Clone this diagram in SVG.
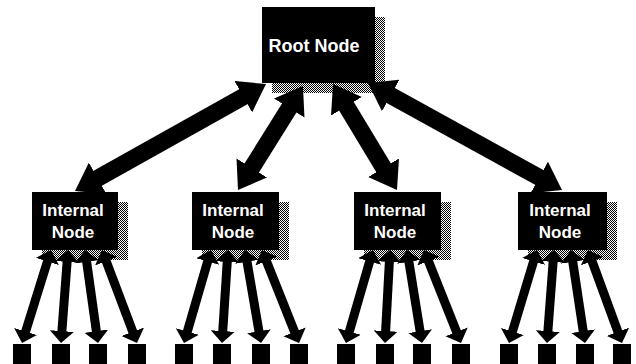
<svg xmlns="http://www.w3.org/2000/svg" width="636" height="364" viewBox="0 0 636 364">
<style>
.box{fill:#000}
.shadow{fill:url(#dither)}
.lbl{fill:#fff;font-family:"Liberation Sans",Arial,sans-serif;font-weight:bold;text-anchor:middle}
.big{stroke:#000;stroke-width:17;fill:none;marker-start:url(#hb);marker-end:url(#hb)}
.small{stroke:#000;stroke-width:9;fill:none;marker-start:url(#hs);marker-end:url(#hs)}
.leaf{fill:#000}
</style>
<defs>
<pattern id="dither" width="2" height="2" patternUnits="userSpaceOnUse">
<rect width="2" height="2" fill="#fff"/>
<rect width="1" height="1" fill="#000"/>
<rect x="1" y="1" width="1" height="1" fill="#000"/>
</pattern>
<marker id="hb" markerUnits="userSpaceOnUse" viewBox="0 -18 26 36" refX="1" refY="0" markerWidth="26" markerHeight="36" orient="auto-start-reverse">
<path d="M0,-18 L26,0 L0,18 z" fill="#000"/>
</marker>
<marker id="hs" markerUnits="userSpaceOnUse" viewBox="0 -12 12 24" refX="1" refY="0" markerWidth="12" markerHeight="24" orient="auto-start-reverse">
<path d="M0,-12 L12,0 L0,12 z" fill="#000"/>
</marker>
</defs>
<rect width="636" height="364" fill="#fff"/>

<g id="root">
<rect class="shadow" x="272" y="17" width="113" height="76"/>
<rect class="box" x="262" y="7" width="113" height="76"/>
<text class="lbl" x="314" y="52" font-size="18">Root Node</text>
</g>
<g id="internal1">
<rect class="shadow" x="42" y="202" width="86" height="58"/>
<rect class="box" x="32" y="192" width="86" height="58"/>
<text class="lbl" x="73" y="216" font-size="17">Internal</text>
<text class="lbl" x="73" y="238" font-size="17">Node</text>
</g>
<g id="internal2">
<rect class="shadow" x="202" y="202" width="87" height="58"/>
<rect class="box" x="192" y="192" width="87" height="58"/>
<text class="lbl" x="233" y="216" font-size="17">Internal</text>
<text class="lbl" x="233" y="238" font-size="17">Node</text>
</g>
<g id="internal3">
<rect class="shadow" x="364" y="202" width="87" height="58"/>
<rect class="box" x="354" y="192" width="87" height="58"/>
<text class="lbl" x="395" y="216" font-size="17">Internal</text>
<text class="lbl" x="395" y="238" font-size="17">Node</text>
</g>
<g id="internal4">
<rect class="shadow" x="528" y="202" width="89" height="58"/>
<rect class="box" x="518" y="192" width="89" height="58"/>
<text class="lbl" x="560" y="216" font-size="17">Internal</text>
<text class="lbl" x="560" y="238" font-size="17">Node</text>
</g>

<g id="leaves">
<g id="leaf1-1"><rect class="leaf" x="13" y="344" width="18" height="20"/></g>
<g id="leaf1-2"><rect class="leaf" x="52" y="344" width="18" height="20"/></g>
<g id="leaf1-3"><rect class="leaf" x="89" y="344" width="18" height="20"/></g>
<g id="leaf1-4"><rect class="leaf" x="128" y="344" width="18" height="20"/></g>
<g id="leaf2-1"><rect class="leaf" x="175" y="344" width="18" height="20"/></g>
<g id="leaf2-2"><rect class="leaf" x="213" y="344" width="18" height="20"/></g>
<g id="leaf2-3"><rect class="leaf" x="252" y="344" width="18" height="20"/></g>
<g id="leaf2-4"><rect class="leaf" x="290" y="344" width="18" height="20"/></g>
<g id="leaf3-1"><rect class="leaf" x="337" y="344" width="18" height="20"/></g>
<g id="leaf3-2"><rect class="leaf" x="376" y="344" width="18" height="20"/></g>
<g id="leaf3-3"><rect class="leaf" x="413" y="344" width="18" height="20"/></g>
<g id="leaf3-4"><rect class="leaf" x="452" y="344" width="18" height="20"/></g>
<g id="leaf4-1"><rect class="leaf" x="500" y="344" width="18" height="20"/></g>
<g id="leaf4-2"><rect class="leaf" x="538" y="344" width="18" height="20"/></g>
<g id="leaf4-3"><rect class="leaf" x="576" y="344" width="18" height="20"/></g>
<g id="leaf4-4"><rect class="leaf" x="613" y="344" width="18" height="20"/></g>
</g>

<g id="connectors">
<line class="big" x1="25" y1="0" x2="193.9" y2="0" transform="translate(75,191) rotate(-29.25)"/>
<line class="big" x1="25" y1="0" x2="97.6" y2="0" transform="translate(238,190) rotate(-58.0)"/>
<line class="big" x1="25" y1="0" x2="98.8" y2="0" transform="translate(397,190) rotate(-121.12)"/>
<line class="big" x1="25" y1="0" x2="196.6" y2="0" transform="translate(562,190) rotate(-151.12)"/>

<line class="small" x1="11" y1="0" x2="86.4" y2="0" transform="translate(51,250) rotate(107.32)"/>
<line class="small" x1="11" y1="0" x2="82.26" y2="0" transform="translate(68,250) rotate(94.30)"/>
<line class="small" x1="11" y1="0" x2="82.9" y2="0" transform="translate(85,250) rotate(82.04)"/>
<line class="small" x1="11" y1="0" x2="88.37" y2="0" transform="translate(102,250) rotate(69.37)"/>

<line class="small" x1="11" y1="0" x2="85.84" y2="0" transform="translate(211,250) rotate(106.19)"/>
<line class="small" x1="11" y1="0" x2="82.19" y2="0" transform="translate(228,250) rotate(93.69)"/>
<line class="small" x1="11" y1="0" x2="83.37" y2="0" transform="translate(245,250) rotate(80.24)"/>
<line class="small" x1="11" y1="0" x2="89.09" y2="0" transform="translate(262,250) rotate(68.30)"/>

<line class="small" x1="11" y1="0" x2="85.84" y2="0" transform="translate(373,250) rotate(106.19)"/>
<line class="small" x1="11" y1="0" x2="82.13" y2="0" transform="translate(390,250) rotate(93.08)"/>
<line class="small" x1="11" y1="0" x2="83.2" y2="0" transform="translate(407,250) rotate(80.84)"/>
<line class="small" x1="11" y1="0" x2="89.09" y2="0" transform="translate(424,250) rotate(68.30)"/>

<line class="small" x1="11" y1="0" x2="86.12" y2="0" transform="translate(537,250) rotate(106.76)"/>
<line class="small" x1="11" y1="0" x2="82.26" y2="0" transform="translate(554,250) rotate(94.30)"/>
<line class="small" x1="11" y1="0" x2="83.05" y2="0" transform="translate(571,250) rotate(81.44)"/>
<line class="small" x1="11" y1="0" x2="88.02" y2="0" transform="translate(588,250) rotate(69.92)"/>
</g>
</svg>
